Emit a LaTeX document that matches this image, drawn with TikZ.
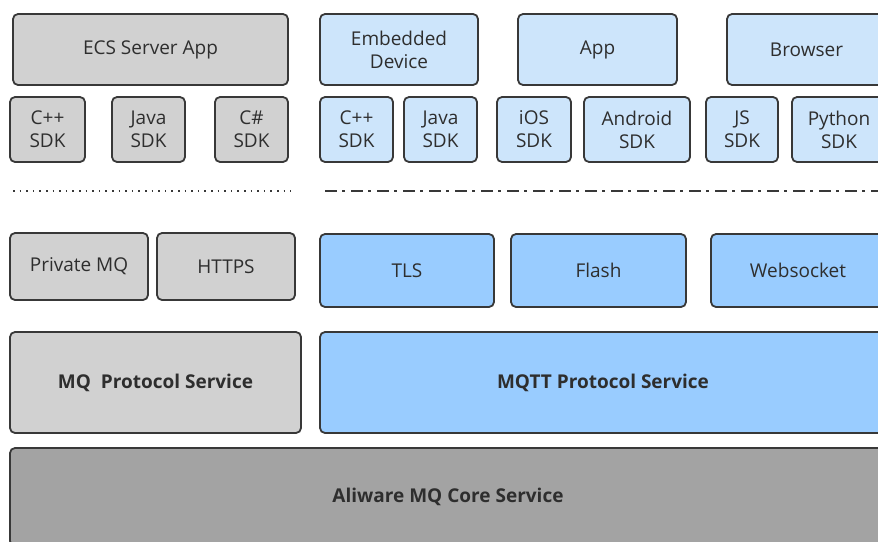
\documentclass[tikz,border=0pt]{standalone}
\usepackage{fontspec}
\setmainfont{Open Sans}
\usetikzlibrary{positioning}

\definecolor{boxline}{HTML}{383838}
\definecolor{lightgray}{HTML}{D1D1D1}
\definecolor{coregray}{HTML}{A3A3A3}
\definecolor{paleblue}{HTML}{CDE5FB}
\definecolor{midblue}{HTML}{99CCFF}
\definecolor{textgray}{HTML}{2E2E2E}

\begin{document}
\begin{tikzpicture}[x=1pt, y=-1pt,
  layer/.style={draw=boxline, line width=1.8pt, rounded corners=5pt,
    inner sep=0pt, align=center, text=textgray,
    font=\fontsize{19}{23}\selectfont},
  grayb/.style={layer, fill=lightgray},
  paleb/.style={layer, fill=paleblue},
  blueb/.style={layer, fill=midblue},
  boldtext/.style={font=\fontsize{19}{23}\selectfont\bfseries},
  coreb/.style={layer, fill=coregray, boldtext},
  sdk/.style={minimum height=65pt}]

  \path[use as bounding box] (0,0) rectangle (878,541);
  \clip (0,0) rectangle (878,541);

  % ---------------- applications ----------------
  \node[grayb, minimum width=275pt, minimum height=71pt] (ecs) at (150.5,49.5) {ECS Server App};
  \node[paleb, minimum width=158pt, minimum height=71pt] (embedded) at (399,49.5) {Embedded\\Device};
  \node[paleb, minimum width=159pt, minimum height=71pt] (app) at (597.5,49.5) {App};
  \node[paleb, minimum width=159pt, minimum height=71pt] (browser) at (806.5,49.5) {Browser};

  % ---------------- SDKs ----------------
  \node[grayb, sdk, minimum width=75pt] (cppsdk) at (47.5,129.5) {C++\\SDK};
  \node[grayb, sdk, minimum width=73pt] (javasdk) at (148.5,129.5) {Java\\SDK};
  \node[grayb, sdk, minimum width=73pt] (cssdk) at (251.5,129.5) {C\#\\SDK};
  \node[paleb, sdk, minimum width=73pt] (cppdev) at (356.5,129.5) {C++\\SDK};
  \node[paleb, sdk, minimum width=73pt] (javadev) at (440.5,129.5) {Java\\SDK};
  \node[paleb, sdk, minimum width=74pt] (iossdk) at (534,129.5) {iOS\\SDK};
  \node[paleb, sdk, minimum width=106pt] (androidsdk) at (637,129.5) {Android\\SDK};
  \node[paleb, sdk, minimum width=72pt] (jssdk) at (742,129.5) {JS\\SDK};
  \node[paleb, sdk, minimum width=94pt] (pythonsdk) at (839,129.5) {Python\\SDK};

  % separators
  \coordinate (dotl) at (13,191);
  \coordinate (dotr) at (291,191);
  \coordinate (dashl) at (325,191);
  \coordinate (dashr) at (880,191);
  \draw[boxline, line width=2pt, dash pattern=on 1.6pt off 5pt] (dotl) -- (dotr);
  \draw[boxline, line width=2.4pt, dash pattern=on 12pt off 5pt on 3pt off 6pt] (dashl) -- (dashr);

  % ---------------- access protocols ----------------
  \node[grayb, minimum width=138pt, minimum height=67pt] (privmq) at (79,266.5) {Private MQ};
  \node[grayb, minimum width=138pt, minimum height=67pt] (https) at (226,266.5) {HTTPS};
  \node[blueb, minimum width=174pt, minimum height=73pt] (tls) at (407,270.5) {TLS};
  \node[blueb, minimum width=175pt, minimum height=73pt] (flash) at (598.5,270.5) {Flash};
  \node[blueb, minimum width=174pt, minimum height=73pt] (websocket) at (798,270.5) {Websocket};

  % ---------------- protocol services ----------------
  \node[grayb, boldtext, minimum width=291pt, minimum height=101pt] (mqsvc) at (155.5,382.5) {MQ\ \ Protocol Service};
  \node[blueb, boldtext, minimum width=566pt, minimum height=101pt] (mqttsvc) at (603,382.5) {MQTT Protocol Service};

  % ---------------- core ----------------
  \node[coreb, minimum width=876pt, minimum height=98pt] (core) at (448,497) {Aliware MQ Core Service};

\end{tikzpicture}
\end{document}
